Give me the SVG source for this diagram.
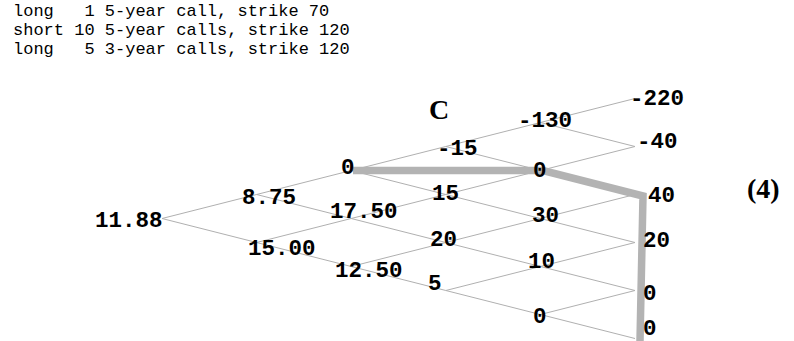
<svg xmlns="http://www.w3.org/2000/svg" width="794" height="341" viewBox="0 0 794 341">
<style>
.hdr{font-family:"Liberation Mono","DejaVu Sans Mono",monospace;font-size:17px;fill:#000;white-space:pre}
.lbl{font-family:"Liberation Mono","DejaVu Sans Mono",monospace;font-size:22.5px;font-weight:bold;fill:#000}
.ser{font-family:"Liberation Serif","DejaVu Serif",serif;font-weight:bold;fill:#000}
.edge{stroke:#b0b0b0;stroke-width:1;fill:none}
.hl{stroke:#b3b3b3;stroke-width:7.5;fill:none;stroke-linejoin:miter}
</style>
<rect width="794" height="341" fill="#fff"/>
<g id="header">
<text class="hdr" x="13" y="16" xml:space="preserve">long   1 5-year call, strike 70</text>
<text class="hdr" x="13" y="35" xml:space="preserve">short 10 5-year calls, strike 120</text>
<text class="hdr" x="13" y="54" xml:space="preserve">long   5 3-year calls, strike 120</text>
</g>
<text class="ser" x="429" y="119" font-size="28">C</text>
<text class="ser" x="747" y="198" font-size="28">(4)</text>
<g id="connectors">
<path class="edge" d="M162 218.5L256.6 194.5L351.2 170.5L445.8 146.5L540.4 122.5L635 98.5"/>
<path class="edge" d="M162 218.5L256.6 242.5L351.2 266.5L445.8 290.5L540.4 314.5L635 338.5"/>
<path class="edge" d="M256.6 194.5L351.2 218.5L445.8 242.5L540.4 266.5L635 290.5"/>
<path class="edge" d="M351.2 170.5L445.8 194.5L540.4 218.5L635 242.5"/>
<path class="edge" d="M445.8 146.5L540.4 170.5L635 194.5"/>
<path class="edge" d="M540.4 122.5L635 146.5"/>
<path class="edge" d="M256.6 242.5L351.2 218.5L445.8 194.5L540.4 170.5L635 146.5"/>
<path class="edge" d="M351.2 266.5L445.8 242.5L540.4 218.5L635 194.5"/>
<path class="edge" d="M445.8 290.5L540.4 266.5L635 242.5"/>
<path class="edge" d="M540.4 314.5L635 290.5"/>
<path class="hl" d="M353 170.5H543L643 196L640 341"/>
</g>
<g id="n00"><text class="lbl" x="95" y="226.5">11.88</text></g>
<g id="n10"><text class="lbl" x="242" y="204">8.75</text></g>
<g id="n11"><text class="lbl" x="248" y="255">15.00</text></g>
<g id="n20"><text class="lbl" x="341" y="174">0</text></g>
<g id="n21"><text class="lbl" x="330" y="218">17.50</text></g>
<g id="n22"><text class="lbl" x="335" y="277">12.50</text></g>
<g id="n30"><text class="lbl" x="437" y="155">-15</text></g>
<g id="n31"><text class="lbl" x="432" y="200">15</text></g>
<g id="n32"><text class="lbl" x="430" y="246">20</text></g>
<g id="n33"><text class="lbl" x="428" y="290">5</text></g>
<g id="n40"><text class="lbl" x="518" y="127">-130</text></g>
<g id="n41"><text class="lbl" x="533" y="177">0</text></g>
<g id="n42"><text class="lbl" x="532" y="222">30</text></g>
<g id="n43"><text class="lbl" x="528" y="268">10</text></g>
<g id="n44"><text class="lbl" x="533" y="323">0</text></g>
<g id="n50"><text class="lbl" x="630" y="105">-220</text></g>
<g id="n51"><text class="lbl" x="637" y="148">-40</text></g>
<g id="n52"><text class="lbl" x="648" y="202">40</text></g>
<g id="n53"><text class="lbl" x="643" y="247">20</text></g>
<g id="n54"><text class="lbl" x="643" y="300">0</text></g>
<g id="n55"><text class="lbl" x="643" y="335">0</text></g>
</svg>
